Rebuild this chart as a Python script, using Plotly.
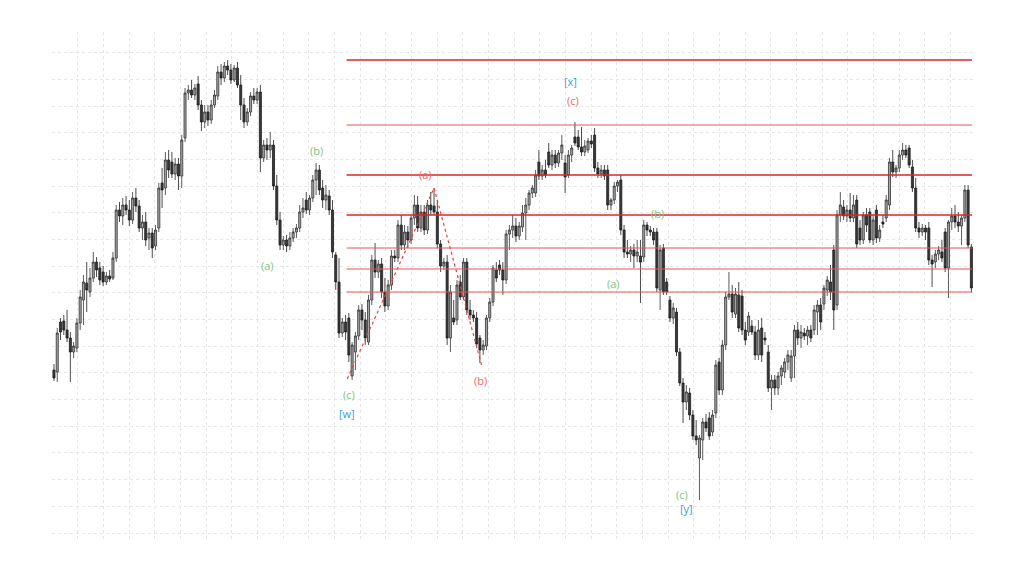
import plotly.graph_objects as go

# OHLC data (price units), one entry per candle
opens = [230,228,278,279,270,262,248,252,277,300,317,308,322,338,332,328,318,324,322,342,
         390,384,395,390,380,402,394,372,378,362,367,354,372,417,412,440,438,426,436,424,
         462,507,510,505,516,495,478,488,480,495,504,528,522,534,530,520,532,515,495,478,
         488,504,500,508,442,455,450,455,414,380,355,360,354,362,368,372,388,400,390,402,
         420,430,412,400,404,390,345,318,267,278,282,224,248,264,290,280,258,300,340,328,
         336,308,294,315,344,342,375,355,368,360,382,395,372,388,370,395,394,388,356,334,
         338,262,282,280,318,303,338,290,285,282,262,250,254,282,298,330,335,330,320,366,
         370,374,364,373,387,395,407,407,438,424,430,448,435,445,437,447,437,425,445,463,
         463,453,448,450,459,465,432,426,430,430,395,400,414,420,370,348,346,350,344,344,
         343,375,370,368,368,310,352,318,300,282,288,248,217,198,207,185,164,142,160,178,
         182,168,187,238,210,255,303,306,286,305,304,270,268,274,268,245,272,262,248,212,
         220,212,224,228,238,222,244,270,262,267,264,270,270,288,295,296,310,318,350,295,
         385,393,384,390,382,400,372,360,385,388,360,390,362,378,382,395,438,428,432,445,
         450,452,433,412,372,368,372,372,340,338,346,348,368,332,378,384,378,374,382,410,
         353]
highs = [236,272,282,285,290,268,258,282,310,325,338,332,348,343,338,334,328,330,348,395,
         398,402,404,400,408,412,400,385,388,372,372,375,417,432,448,450,448,442,442,465,
         512,515,520,516,524,500,495,495,500,510,534,536,538,540,536,535,538,525,502,492,
         508,512,512,515,460,462,468,460,425,388,364,365,368,372,376,395,402,408,405,425,
         437,435,420,415,410,400,348,342,282,285,287,258,268,295,296,288,305,345,357,340,
         342,322,320,350,350,380,385,375,374,385,405,404,395,395,400,408,412,400,360,342,
         345,315,300,320,325,342,342,300,290,288,265,260,285,302,335,338,340,338,370,375,
         385,382,378,395,402,410,415,430,450,435,440,457,450,450,450,465,445,450,455,478,
         470,473,460,462,465,472,438,435,435,435,402,418,420,425,375,360,354,356,360,360,
         380,378,374,372,372,355,356,322,304,297,292,252,222,215,212,190,180,165,182,186,
         188,190,240,242,260,308,328,315,312,318,310,278,288,280,274,280,282,268,255,225,
         225,228,235,242,250,250,275,278,275,272,274,275,295,300,302,315,324,335,355,390,
         408,400,395,407,405,405,380,388,392,392,385,395,375,385,405,442,450,435,450,457,
         455,455,440,422,378,376,375,378,345,350,354,360,372,380,392,395,388,385,415,415,
         356]
lows = [219,218,260,265,258,218,242,248,270,275,288,303,318,323,315,314,315,318,320,338,
        378,375,385,374,376,388,368,360,354,350,342,350,368,392,405,422,422,420,410,412,
        458,500,502,500,490,469,472,474,476,492,500,515,518,525,516,518,512,480,472,474,
        484,496,496,428,438,440,442,410,375,350,350,348,350,358,362,368,382,386,385,398,
        405,405,392,390,385,342,310,262,263,260,238,220,230,260,270,255,255,295,322,322,
        302,288,290,310,338,338,350,350,352,356,375,368,368,365,366,385,385,352,328,330,
        255,248,275,275,300,300,285,280,278,252,237,245,250,278,294,318,325,305,316,350,
        362,358,360,368,360,390,402,403,420,420,422,432,430,432,433,440,407,422,438,454,
        450,444,444,447,452,428,422,422,420,390,390,396,408,365,342,342,338,332,338,297,
        338,364,364,355,308,290,305,305,278,276,244,214,177,190,180,160,155,100,140,168,
        160,164,182,205,205,250,300,282,282,268,265,255,264,265,240,240,238,255,208,190,
        205,205,215,222,230,218,222,255,252,260,255,258,265,265,270,290,304,300,270,290,
        378,380,378,378,378,352,355,356,368,357,355,357,358,372,378,390,423,422,428,440,
        442,432,408,368,362,364,360,335,313,332,340,338,328,302,370,372,368,355,378,352,
        308]
closes = [222,267,268,270,262,248,254,277,303,318,310,322,338,330,320,318,324,321,342,390,
          384,395,390,380,402,394,372,378,360,367,352,370,412,410,440,430,426,436,424,460,
          507,510,505,512,495,478,488,480,495,505,528,522,534,530,520,532,515,495,478,488,
          504,500,508,442,455,450,455,414,380,355,360,354,362,368,372,388,392,390,402,420,
          430,410,400,405,390,348,318,267,278,268,245,255,264,290,280,262,300,340,328,336,
          308,294,315,344,342,375,355,368,360,382,395,372,388,370,395,390,388,356,334,338,
          262,308,278,315,303,338,290,285,282,256,250,255,282,298,332,322,330,320,366,370,
          374,364,374,387,395,407,412,425,424,430,425,435,445,437,447,455,423,445,452,457,
          453,448,454,459,456,432,426,430,424,395,400,414,418,370,348,346,350,344,348,338,
          375,370,368,360,312,350,308,308,282,292,248,217,198,208,185,164,160,162,178,172,
          164,185,235,210,255,303,306,288,306,272,270,260,284,268,245,270,245,260,212,220,
          212,224,232,238,245,244,270,262,268,264,270,262,290,295,278,312,320,308,290,385,
          395,384,390,382,395,356,360,385,375,360,380,362,370,376,400,438,428,432,445,450,
          445,435,412,372,368,372,368,340,336,346,350,342,332,378,384,378,374,382,410,355,
          312]
candle_index = list(range(len(closes)))

# Horizontal resistance/support levels (price) and their style weight
levels = [540, 475, 425, 385, 352, 331, 308]
level_strong = [True, False, True, True, False, False, False]
level_start = 89.3

# Dotted wave (a)-(b) path: candle index and price
wave_x = [89.5, 116, 130.5]
wave_y = [221, 412, 235]

# Wave labels: text, candle index, price, colour key
label_text = ["(a)", "(b)", "(c)", "[w]", "(a)", "(b)", "[x]", "(c)", "(b)", "(a)", "(c)", "[y]"]
label_x = [65.2, 80.2, 89.9, 89.3, 113.4, 130.2, 157.6, 158.5, 184.1, 170.7, 191.8, 193.0]
label_y = [335, 450, 206, 187, 426, 220, 519, 500, 387, 317, 106, 92]
label_kind = ["g", "g", "g", "b", "r", "r", "b", "r", "g", "g", "g", "b"]
kind_color = {"g": "#7cc47c", "r": "#f06464", "b": "#3d9be0"}

fig = go.Figure()
fig.add_trace(go.Candlestick(
    x=candle_index, open=opens, high=highs, low=lows, close=closes,
    increasing=dict(line=dict(color="#333333", width=0.8), fillcolor="#a4a4a4"),
    decreasing=dict(line=dict(color="#1e1e1e", width=0.8), fillcolor="#383838"),
    whiskerwidth=0, showlegend=False, hoverinfo="skip",
))

x_end = len(closes) - 0.8
for lv, strong in zip(levels, level_strong):
    fig.add_shape(type="line", xref="x", yref="y", x0=level_start, x1=x_end, y0=lv, y1=lv,
                  line=dict(color="#d82828" if strong else "#e85555", width=1.6 if strong else 1))

fig.add_trace(go.Scatter(x=wave_x, y=wave_y, mode="lines",
                         line=dict(color="#e84040", width=1.2, dash="dot"),
                         showlegend=False, hoverinfo="skip"))

for t, x, y, k in zip(label_text, label_x, label_y, label_kind):
    fig.add_annotation(x=x, y=y, text=t, showarrow=False,
                       font=dict(size=11, color=kind_color[k], family="Open Sans"))

fig.update_layout(
    width=1016, height=566,
    margin=dict(l=44, r=49, t=24, b=34),
    paper_bgcolor="white", plot_bgcolor="white",
    showlegend=False, boxgap=0.1,
    xaxis=dict(range=[-0.6, len(closes) + 0.1], tick0=-0.6, dtick=7.835,
               showgrid=True, gridcolor="#e6e6e6", griddash="dot", gridwidth=1,
               showticklabels=False, zeroline=False, showline=False,
               rangeslider=dict(visible=False), fixedrange=True),
    yaxis=dict(range=[60, 568], tick0=67, dtick=26.67,
               showgrid=True, gridcolor="#e6e6e6", griddash="dot", gridwidth=1,
               showticklabels=False, zeroline=False, showline=False, fixedrange=True),
)

fig.write_html("out.html")
